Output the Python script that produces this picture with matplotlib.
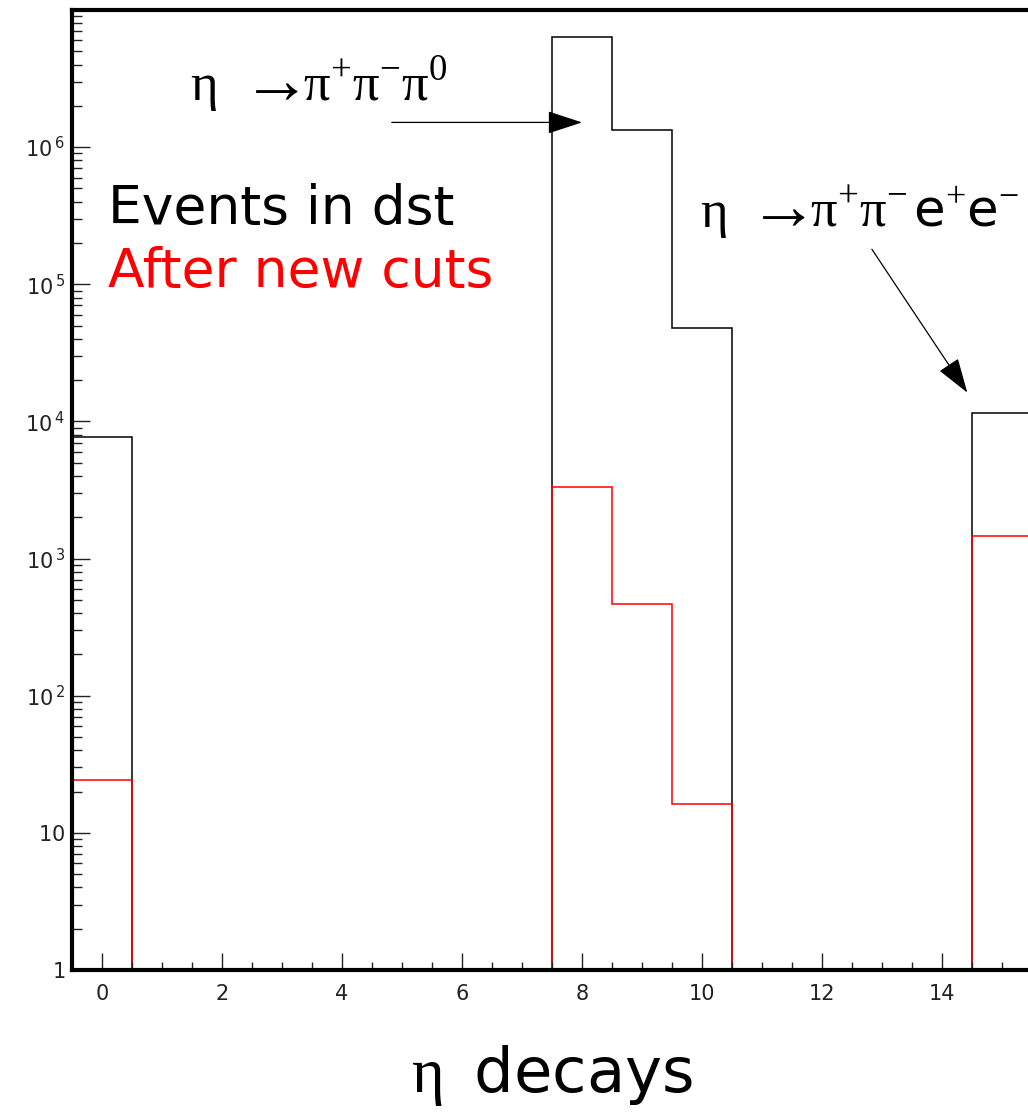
import matplotlib
matplotlib.use("Agg")
import matplotlib.pyplot as plt
import numpy as np
from matplotlib.ticker import FuncFormatter, MultipleLocator, LogLocator, NullFormatter

plt.rcParams['mathtext.fontset'] = 'custom'
plt.rcParams['mathtext.rm'] = 'Liberation Serif'
plt.rcParams['mathtext.sf'] = 'DejaVu Sans'

# decay channel index, one bin per channel
channels = np.arange(16)
edges = np.arange(-0.5, 16.0, 1.0)

# events in dst
n_dst = [7640, 0, 0, 0, 0, 0, 0, 0, 6.3e6, 1.33e6, 4.77e4, 0, 0, 0, 0, 1.16e4]
# after the new cuts
n_cuts = [24.4, 0, 0, 0, 0, 0, 0, 0, 3300, 470, 16.3, 0, 0, 0, 0, 1470]

fig = plt.figure(figsize=(10.28, 11.17), dpi=100)
ax = fig.add_axes([0.070, 0.1316, 0.934, 0.8595])

ymin = 1.0
for counts, col in [(n_dst, 'black'), (n_cuts, 'red')]:
    c = np.array(counts, dtype=float)
    c[c <= 0] = ymin
    ax.stairs(c, edges, baseline=ymin, color=col, lw=1.1)

ax.set_yscale('log')
ax.set_xlim(-0.5, 15.5)
ax.set_ylim(ymin, 10 ** 7.0)

for s in ax.spines.values():
    s.set_linewidth(3.0)

ax.xaxis.set_major_locator(MultipleLocator(2))
ax.xaxis.set_minor_locator(MultipleLocator(0.5))
ax.yaxis.set_major_locator(LogLocator(base=10, numticks=20))
ax.yaxis.set_minor_locator(LogLocator(base=10, subs=np.arange(2, 10), numticks=20))
ax.yaxis.set_minor_formatter(NullFormatter())


def ylab(v, pos):
    e = int(round(np.log10(v)))
    if e >= 7:
        return ''
    if e == 0:
        return r'$\mathregular{1\quad}$'
    if e == 1:
        return r'$\mathregular{10\quad}$'
    return r'$\mathregular{10^{\,%d}}$' % e


ax.yaxis.set_major_formatter(FuncFormatter(ylab))
ax.tick_params(which='both', direction='in', top=False, right=False, width=1.0,
               labelsize=15, colors='#222222')
ax.tick_params(axis='y', which='major', length=13, pad=5)
ax.tick_params(axis='y', which='minor', length=7)
ax.tick_params(axis='x', which='major', length=12, pad=10)
ax.tick_params(axis='x', which='minor', length=6)

ax.set_xlabel(r'$\mathrm{\eta}\,$ decays', fontsize=45, labelpad=28)

ax.text(0.1, 10 ** 5.44, 'Events in dst', fontsize=38.5, color='black', va='baseline')
ax.text(0.1, 10 ** 4.98, 'After new cuts', fontsize=38.5, color='red', va='baseline')

# decay labels: eta, arrow and products drawn as separate pieces
serif = dict(fontsize=38, va='baseline', family='Liberation Serif')
arr = dict(fontsize=50, va='baseline', family='Liberation Serif',
           xytext=(0, -2.3), textcoords='offset points')

y1 = 10 ** 6.34
ax.text(1.47, y1, 'η', **serif)
ax.annotate('→', xy=(2.33, y1), **arr)
ax.text(3.35, y1, 'π$^{+}$π$^{-}$π$^{0}$', **serif)

y2 = 10 ** 5.42
ax.text(9.97, y2, 'η', **serif)
ax.annotate('→', xy=(10.78, y2), **arr)
ax.text(11.8, y2, 'π$^{+}$π$^{-}$', **serif)
ax.text(13.52, y2, 'e$^{+}$e$^{-}$', fontsize=37, va='baseline', family='DejaVu Sans')

arrow = dict(arrowstyle='-|>,head_length=0.55,head_width=0.18', color='black',
             lw=0.9, mutation_scale=40, shrinkA=0, shrinkB=0)
ax.annotate('', xy=(8.0, 10 ** 6.18), xytext=(4.83, 10 ** 6.18), arrowprops=arrow)
ax.annotate('', xy=(14.42, 10 ** 4.21), xytext=(12.83, 10 ** 5.255), arrowprops=arrow)

fig.savefig('out.png', dpi=100)
